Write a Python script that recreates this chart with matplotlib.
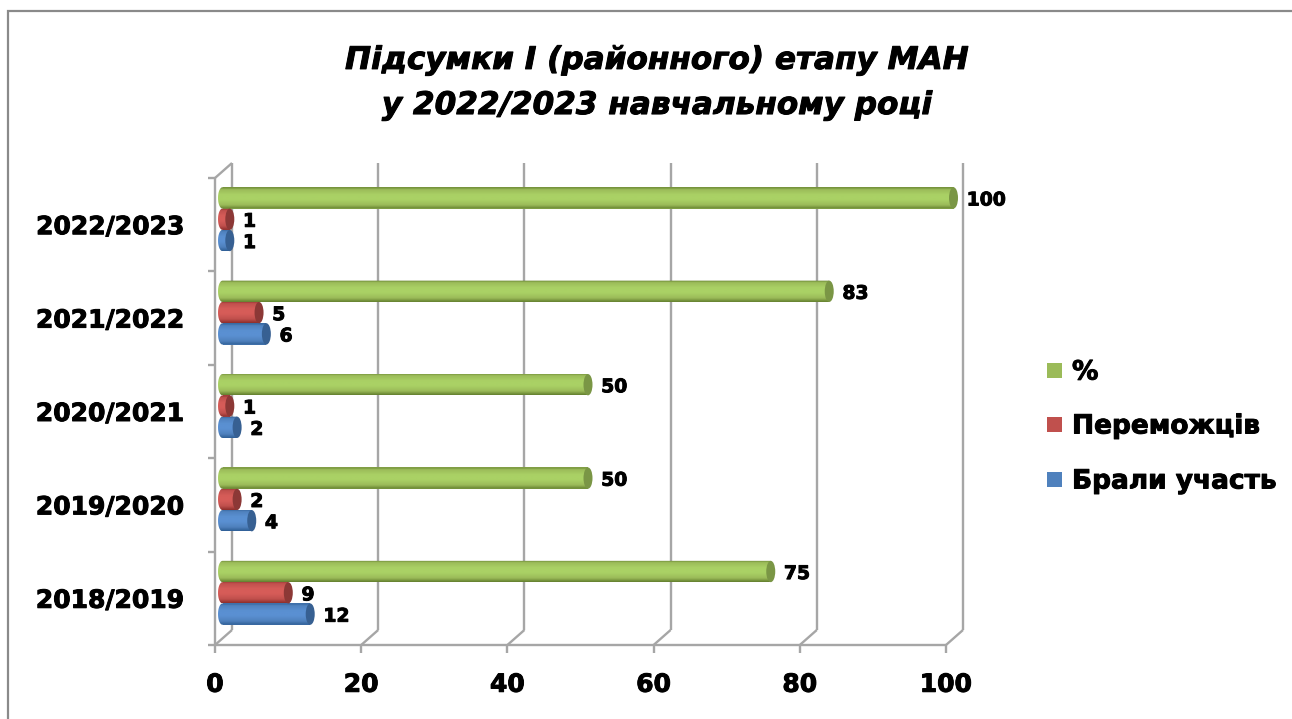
import matplotlib
matplotlib.use('AGG')
import matplotlib.pyplot as plt
import matplotlib.patheffects as pe
import numpy as np
from matplotlib.colors import to_rgb
from matplotlib.patches import Ellipse, PathPatch, Rectangle
from matplotlib.path import Path

years = ['2018/2019', '2019/2020', '2020/2021', '2021/2022', '2022/2023']
took_part = [12, 4, 2, 6, 1]
winners = [9, 2, 1, 5, 1]
percent = [75, 50, 50, 83, 100]
series_names = ['Брали участь', 'Переможців', '%']
xticks = [0, 20, 40, 60, 80, 100]

plt.rcParams['font.family'] = ['DejaVu Sans']

W, H = 1292, 719
fig = plt.figure(figsize=(W / 100, H / 100), dpi=100)
fig.add_artist(Rectangle((8 / W, -0.02), 1.1, 1.02 - 11 / H, transform=fig.transFigure,
                         fc='white', ec='#8a8a8a', lw=1.6, zorder=-1))

# front plane of the fake 3d box, pixels measured on the picture
left, right, top, bottom = 215, 946, 178, 645
ax = fig.add_axes([left / W, 1 - bottom / H, (right - left) / W, (bottom - top) / H])
ax.set_xlim(0, 100)
ax.set_ylim(0, 5)
ax.patch.set_alpha(0)
for s in ax.spines.values():
    s.set_visible(False)

# depth offset of the back wall in data units
dx = 17 / 7.31
dy = 15 / 93.4
grey = '#a6a6a6'
line = dict(color=grey, lw=1.7, clip_on=False, zorder=1, solid_capstyle='butt')
for v in xticks:
    ax.plot([v + dx, v + dx], [dy, 5 + dy], **line)
    ax.plot([v, v + dx], [0, dy], **line)
    ax.plot([v, v], [0, -0.09], **line)
ax.plot([0, 0], [0, 5], **line)
ax.plot([0, 100], [0, 0], **line)
ax.plot([0, dx], [5, 5 + dy], **line)
for i in range(6):
    ax.plot([-0.9, 0], [i, i], **line)

y = np.arange(5) + 0.5 + 5.5 / 93.4
h = 21.3 / 93.4
start = 7.5 / 7.31
cap = 9 / 7.31
series = [
    (took_part, y - h, '#4f81bd', '#5a90d2', '#2f5f96', '#376092'),
    (winners, y, '#c0504d', '#d65c58', '#8e2f2c', '#8c3836'),
    (percent, y + h, '#9bbb59', '#aad165', '#64802f', '#7a9645'),
]
heavy = [pe.withStroke(linewidth=0.7, foreground='black')]


def cylinder(bar, light, base, dark, end):
    x0, y0 = bar.get_x(), bar.get_y()
    w, bh = bar.get_width(), bar.get_height()
    # shading from the lower edge of the tube to its upper edge
    stops = [0, 0.18, 0.42, 0.65, 0.9, 1]
    cols = np.array([to_rgb(c) for c in (dark, base, light, light, base, dark)])
    t = np.linspace(0, 1, 48)
    grad = np.stack([np.interp(t, stops, cols[:, k]) for k in range(3)], axis=1).reshape(-1, 1, 3)
    # outline: straight tube with a rounded left end
    a = np.linspace(np.pi / 2, 3 * np.pi / 2, 24)
    px = np.r_[x0 + w, x0 + cap / 2 * np.cos(a), x0 + w, x0 + w]
    py = np.r_[y0 + bh, y0 + bh / 2 + bh / 2 * np.sin(a), y0, y0 + bh]
    outline = PathPatch(Path(np.c_[px, py]), transform=ax.transData)
    im = ax.imshow(grad, extent=[x0 - cap / 2, x0 + w, y0, y0 + bh], aspect='auto',
                   origin='lower', interpolation='bilinear', zorder=3)
    im.set_clip_box(fig.bbox)
    im.set_clip_path(outline)
    ax.add_patch(Ellipse((x0 + w, y0 + bh / 2), cap, bh, fc=end, ec='none', zorder=4, clip_on=False))


for values, ypos, base, light, dark, end in series:
    bars = ax.barh(ypos, values, height=h, left=start, color=base, zorder=2, clip_on=False)
    for bar, val in zip(bars, values):
        cylinder(bar, light, base, dark, end)
        ax.annotate(str(val), (start + val, bar.get_y() + h / 2), xytext=(9.5, -1.5),
                    textcoords='offset points', va='center', ha='left', annotation_clip=False,
                    fontsize=13.5, fontweight='bold', color='black', zorder=5, path_effects=heavy)
ax.set_xlim(0, 100)
ax.set_ylim(0, 5)

ax.set_xticks(xticks)
ax.set_xticklabels([str(v) for v in xticks], fontsize=18, fontweight='bold', path_effects=heavy)
ax.set_yticks(np.arange(5) + 0.5)
ax.set_yticklabels(years, fontsize=18, fontweight='bold', path_effects=heavy)
ax.tick_params(axis='both', length=0)
ax.tick_params(axis='x', pad=20)
ax.tick_params(axis='y', pad=22)

fig.text(657 / W, 1 - 83 / H, 'Підсумки І (районного) етапу МАН\nу 2022/2023 навчальному році',
         ha='center', va='center', fontsize=22.4, fontweight='bold', fontstyle='italic',
         linespacing=1.7, path_effects=heavy)

# legend, same order as the picture
for (values, ypos, base, light, dark, end), name, ly in zip(series, series_names, [480, 425, 371]):
    fig.add_artist(Rectangle((1047 / W, 1 - (ly + 7) / H), 15 / W, 15 / H,
                             transform=fig.transFigure, fc=base, ec='none'))
    fig.text(1072 / W, 1 - (ly + 1.5) / H, name, va='center', ha='left', fontsize=19,
             fontweight='bold', path_effects=heavy)

fig.savefig('out.png', dpi=100)
